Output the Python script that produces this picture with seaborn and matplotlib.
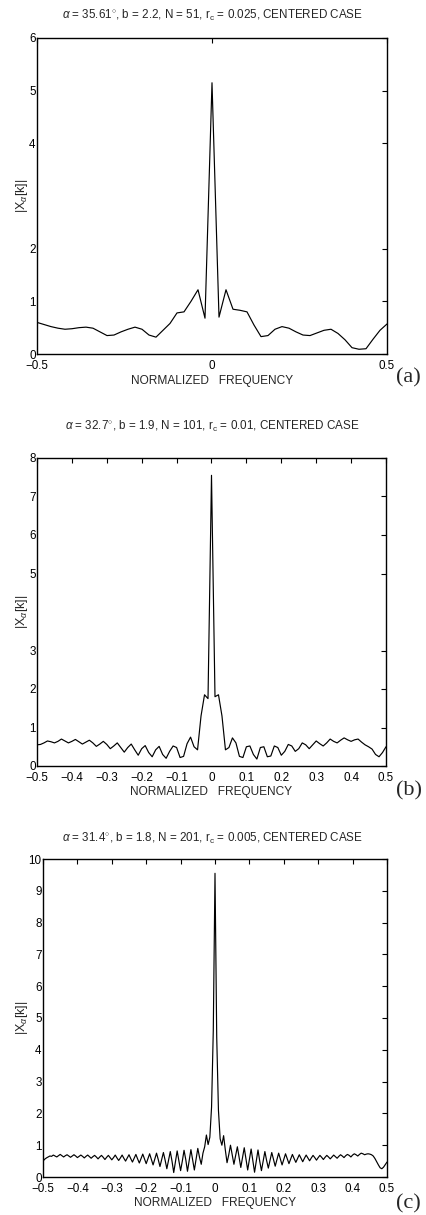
import numpy as np
import pandas as pd
import matplotlib
matplotlib.use("Agg")
import matplotlib.pyplot as plt
import seaborn as sns

# ---------------- data ----------------
# (a) N = 51, step 0.02
mag_a = [0.60, 0.56, 0.52, 0.49, 0.47, 0.48, 0.50, 0.51, 0.49, 0.42,
         0.35, 0.36, 0.42, 0.47, 0.51, 0.47, 0.36, 0.32, 0.45, 0.58,
         0.78, 0.80, 1.00, 1.22, 0.68, 5.15, 0.70, 1.22, 0.85, 0.83,
         0.80, 0.55, 0.33, 0.35, 0.47, 0.52, 0.49, 0.42, 0.36, 0.35,
         0.40, 0.45, 0.47, 0.39, 0.27, 0.12, 0.09, 0.10, 0.28, 0.45,
         0.57]

# (b) N = 101, step 0.01
mag_b = [0.55, 0.56, 0.60, 0.65, 0.63, 0.60, 0.64, 0.70, 0.65, 0.60,
         0.64, 0.69, 0.63, 0.57, 0.62, 0.67, 0.60, 0.51, 0.57, 0.64,
         0.56, 0.45, 0.52, 0.60, 0.48, 0.36, 0.48, 0.57, 0.42, 0.28,
         0.45, 0.53, 0.35, 0.24, 0.42, 0.51, 0.30, 0.20, 0.38, 0.52,
         0.48, 0.22, 0.25, 0.58, 0.75, 0.50, 0.42, 1.30, 1.85, 1.75,
         7.55,
         1.80, 1.85, 1.30, 0.42, 0.48, 0.73, 0.60, 0.25, 0.22, 0.50,
         0.52, 0.30, 0.18, 0.48, 0.50, 0.24, 0.26, 0.52, 0.48, 0.28,
         0.38, 0.56, 0.52, 0.38, 0.45, 0.60, 0.55, 0.45, 0.55, 0.65,
         0.58, 0.52, 0.60, 0.70, 0.64, 0.60, 0.67, 0.73, 0.68, 0.64,
         0.68, 0.70, 0.62, 0.55, 0.50, 0.44, 0.30, 0.24, 0.35, 0.50]

# (c) N = 201, step 0.005
mag_c = [0.50, 0.56, 0.60, 0.63, 0.66, 0.65, 0.69, 0.66, 0.63, 0.67,
         0.71, 0.67, 0.63, 0.67, 0.70, 0.66, 0.62, 0.66, 0.70, 0.66,
         0.61, 0.65, 0.69, 0.65, 0.60, 0.65, 0.69, 0.64, 0.59, 0.64,
         0.68, 0.63, 0.57, 0.63, 0.68, 0.62, 0.55, 0.62, 0.68, 0.61,
         0.54, 0.61, 0.69, 0.60, 0.52, 0.60, 0.69, 0.59, 0.50, 0.60,
         0.70, 0.58, 0.47, 0.59, 0.71, 0.57, 0.44, 0.58, 0.72, 0.57,
         0.42, 0.57, 0.73, 0.56, 0.38, 0.56, 0.75, 0.55, 0.33, 0.55,
         0.77, 0.53, 0.26, 0.53, 0.80, 0.50, 0.14, 0.48, 0.82, 0.50,
         0.20, 0.50, 0.84, 0.55, 0.18, 0.52, 0.86, 0.55, 0.22, 0.55,
         0.90, 0.62, 0.40, 0.75, 0.95, 1.32, 1.02, 1.25, 2.20, 4.60,
         9.55,
         4.40, 2.10, 1.20, 1.00, 1.30, 0.85, 0.45, 0.70, 1.00, 0.70,
         0.40, 0.68, 0.95, 0.62, 0.30, 0.62, 0.92, 0.58, 0.22, 0.55,
         0.88, 0.52, 0.15, 0.50, 0.85, 0.50, 0.20, 0.50, 0.80, 0.52,
         0.28, 0.53, 0.77, 0.55, 0.34, 0.55, 0.75, 0.56, 0.38, 0.56,
         0.73, 0.57, 0.42, 0.57, 0.71, 0.58, 0.46, 0.58, 0.70, 0.59,
         0.48, 0.59, 0.69, 0.60, 0.51, 0.60, 0.68, 0.61, 0.53, 0.61,
         0.68, 0.62, 0.55, 0.62, 0.68, 0.63, 0.57, 0.63, 0.69, 0.64,
         0.59, 0.65, 0.70, 0.66, 0.61, 0.67, 0.71, 0.68, 0.63, 0.69,
         0.73, 0.70, 0.66, 0.71, 0.75, 0.73, 0.70, 0.72, 0.73, 0.72,
         0.70, 0.66, 0.58, 0.48, 0.38, 0.29, 0.26, 0.31, 0.39, 0.47]

titles = [r"$\alpha$ = 35.61$^{\circ}$, b = 2.2, N = 51, r$_{\rm c}$ = 0.025, CENTERED CASE",
          r"$\alpha$ = 32.7$^{\circ}$, b = 1.9, N = 101, r$_{\rm c}$ = 0.01, CENTERED CASE",
          r"$\alpha$ = 31.4$^{\circ}$, b = 1.8, N = 201, r$_{\rm c}$ = 0.005, CENTERED CASE"]
panel_tags = ["(a)", "(b)", "(c)"]
xlabel_text = "NORMALIZED   FREQUENCY"
ylabel_text = r"|X$_{\alpha}$[k]|"
xticks_list = [[-0.5, 0, 0.5],
               [-0.5, -0.4, -0.3, -0.2, -0.1, 0, 0.1, 0.2, 0.3, 0.4, 0.5],
               [-0.5, -0.4, -0.3, -0.2, -0.1, 0, 0.1, 0.2, 0.3, 0.4, 0.5]]
yticks_list = [[0, 1, 2, 4, 5, 6],
               [0, 1, 2, 3, 5, 6, 7, 8],
               [0, 1, 2, 3, 4, 5, 6, 7, 8, 9, 10]]
ymax_list = [6, 8, 10]

# ---------------- style ----------------
sns.set_style("white")
plt.rcParams["font.family"] = ["Liberation Sans", "DejaVu Sans"]
plt.rcParams["mathtext.fontset"] = "custom"
plt.rcParams["mathtext.rm"] = "Liberation Sans"
plt.rcParams["mathtext.it"] = "Liberation Sans:italic"
plt.rcParams["mathtext.sf"] = "Liberation Sans"

W, H = 427, 1215
fig = plt.figure(figsize=(W / 100, H / 100), dpi=100)

# axes boxes in pixels: left, right, top, bottom
boxes = [(37, 387, 38, 354), (37, 386, 458, 766), (43, 387, 859, 1177)]
title_y = [15, 426, 838]
tag_y = [378, 791, 1204]
xlab_y = [381, 792, 1203]


def fmt(v):
    return ("%g" % v).replace("-", "\u2212")


datasets = []
for mag in (mag_a, mag_b, mag_c):
    n = len(mag)
    freq = np.linspace(-0.5, 0.5, n)
    datasets.append(pd.DataFrame({"freq": freq, "mag": mag}))

for i, df in enumerate(datasets):
    l, r, t, b = boxes[i]
    ax = fig.add_axes([l / W, 1 - b / H, (r - l) / W, (b - t) / H])
    sns.lineplot(data=df, x="freq", y="mag", ax=ax, color="black",
                 linewidth=0.85, estimator=None)
    ax.set_xlim(-0.5, 0.5)
    ax.set_ylim(0, ymax_list[i])
    ax.set_xticks(xticks_list[i])
    ax.set_xticklabels([fmt(v) for v in xticks_list[i]])
    ax.set_yticks(yticks_list[i])
    ax.set_yticklabels([fmt(v) for v in yticks_list[i]])
    ax.tick_params(direction="in", top=True, right=True, length=3.5,
                   width=0.8, labelsize=8.4, colors="black")
    ax.tick_params(axis="y", pad=1.0)
    ax.tick_params(axis="x", pad=4.6)
    for sp in ax.spines.values():
        sp.set_visible(True)
        sp.set_color("black")
        sp.set_linewidth(1.0)
    ax.set_xlabel("")
    ax.set_ylabel(ylabel_text, fontsize=9, va="center", ha="center")
    ax.yaxis.set_label_coords((22 - l) / (r - l), 0.5)
    fig.text((l + r) / 2 / W, 1 - xlab_y[i] / H, xlabel_text, fontsize=8.6,
             ha="center", va="center")
    fig.text(212 / W, 1 - title_y[i] / H, titles[i], fontsize=8.4,
             ha="center", va="center")
    fig.text(396 / W, 1 - tag_y[i] / H, panel_tags[i], fontsize=16,
             family=["Liberation Serif"], ha="left", va="center")

fig.savefig("out.png", dpi=100)
